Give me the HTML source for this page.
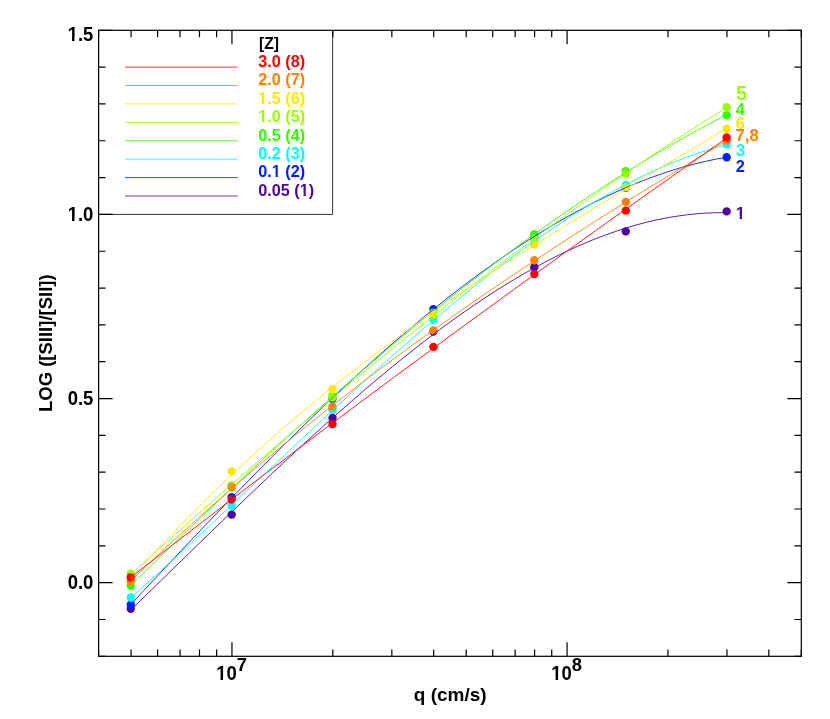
<!DOCTYPE html><html><head><meta charset="utf-8"><title>LOG ([SIII]/[SII]) vs q</title><style>html,body{margin:0;padding:0;background:#fff}svg{display:block;will-change:transform}text{font-family:"Liberation Sans",sans-serif;font-weight:bold;font-kerning:none;white-space:pre}</style></head><body>
<svg width="830" height="719" viewBox="0 0 830 719">
<rect width="830" height="719" fill="#fff"/>
<g fill="#5000a0">
<circle cx="130.78" cy="608.70" r="4.2"/>
<circle cx="231.65" cy="514.60" r="4.2"/>
<circle cx="332.53" cy="418.00" r="4.2"/>
<circle cx="433.41" cy="331.60" r="4.2"/>
<circle cx="534.29" cy="267.20" r="4.2"/>
<circle cx="625.78" cy="231.40" r="4.2"/>
<circle cx="726.66" cy="211.40" r="4.2"/>
</g>
<g fill="#0020ff">
<circle cx="130.78" cy="604.80" r="4.2"/>
<circle cx="231.65" cy="497.10" r="4.2"/>
<circle cx="332.53" cy="398.70" r="4.2"/>
<circle cx="433.41" cy="309.10" r="4.2"/>
<circle cx="534.29" cy="236.10" r="4.2"/>
<circle cx="625.78" cy="187.80" r="4.2"/>
<circle cx="726.66" cy="157.20" r="4.2"/>
</g>
<g fill="#00ffff">
<circle cx="130.78" cy="597.50" r="4.2"/>
<circle cx="231.65" cy="505.80" r="4.2"/>
<circle cx="332.53" cy="409.90" r="4.2"/>
<circle cx="433.41" cy="319.90" r="4.2"/>
<circle cx="534.29" cy="241.10" r="4.2"/>
<circle cx="625.78" cy="184.95" r="4.2"/>
<circle cx="726.66" cy="144.40" r="4.2"/>
</g>
<g fill="#33ff00">
<circle cx="130.78" cy="585.90" r="4.2"/>
<circle cx="231.65" cy="487.50" r="4.2"/>
<circle cx="332.53" cy="396.30" r="4.2"/>
<circle cx="433.41" cy="312.60" r="4.2"/>
<circle cx="534.29" cy="234.30" r="4.2"/>
<circle cx="625.78" cy="171.10" r="4.2"/>
<circle cx="726.66" cy="115.30" r="4.2"/>
</g>
<g fill="#99ff00">
<circle cx="130.78" cy="573.80" r="4.2"/>
<circle cx="231.65" cy="485.40" r="4.2"/>
<circle cx="332.53" cy="397.60" r="4.2"/>
<circle cx="433.41" cy="315.50" r="4.2"/>
<circle cx="534.29" cy="238.40" r="4.2"/>
<circle cx="625.78" cy="173.70" r="4.2"/>
<circle cx="726.66" cy="107.20" r="4.2"/>
</g>
<g fill="#ffe800">
<circle cx="130.78" cy="579.60" r="4.2"/>
<circle cx="231.65" cy="471.35" r="4.2"/>
<circle cx="332.53" cy="389.20" r="4.2"/>
<circle cx="433.41" cy="313.40" r="4.2"/>
<circle cx="534.29" cy="244.60" r="4.2"/>
<circle cx="625.78" cy="187.30" r="4.2"/>
<circle cx="726.66" cy="128.80" r="4.2"/>
</g>
<g fill="#ff8000">
<circle cx="130.78" cy="581.50" r="4.2"/>
<circle cx="231.65" cy="486.90" r="4.2"/>
<circle cx="332.53" cy="406.80" r="4.2"/>
<circle cx="433.41" cy="330.40" r="4.2"/>
<circle cx="534.29" cy="260.20" r="4.2"/>
<circle cx="625.78" cy="201.90" r="4.2"/>
<circle cx="726.66" cy="140.70" r="4.2"/>
</g>
<g fill="#ff0000">
<circle cx="130.78" cy="577.30" r="4.2"/>
<circle cx="231.65" cy="499.50" r="4.2"/>
<circle cx="332.53" cy="424.10" r="4.2"/>
<circle cx="433.41" cy="346.90" r="4.2"/>
<circle cx="534.29" cy="274.10" r="4.2"/>
<circle cx="625.78" cy="210.60" r="4.2"/>
<circle cx="726.66" cy="137.50" r="4.2"/>
</g>
<path d="M130.8,609.9 L140.9,600.1 L151.0,590.3 L161.1,580.5 L171.2,570.6 L181.3,560.8 L191.4,551.0 L201.5,541.2 L211.6,531.4 L221.7,521.6 L231.8,511.9 L241.9,502.2 L252.0,492.5 L262.1,482.9 L272.2,473.4 L282.3,463.9 L292.4,454.5 L302.5,445.2 L312.6,435.9 L322.7,426.8 L332.8,417.7 L342.9,408.8 L353.0,400.0 L363.1,391.2 L373.2,382.6 L383.3,374.2 L393.4,365.9 L403.5,357.7 L413.6,349.7 L423.7,341.8 L433.8,334.1 L443.9,326.6 L454.0,319.2 L464.1,312.1 L474.2,305.1 L484.3,298.3 L494.4,291.7 L504.5,285.4 L514.6,279.2 L524.7,273.3 L534.8,267.7 L544.9,262.2 L555.0,257.0 L565.1,252.1 L575.2,247.4 L585.3,243.0 L595.4,238.8 L605.5,235.0 L615.6,231.4 L625.7,228.1 L635.8,225.1 L645.9,222.4 L656.0,220.0 L666.1,218.0 L676.2,216.3 L686.3,214.9 L696.4,213.8 L706.5,213.1 L716.6,212.7 L726.7,212.7" fill="none" stroke="#5000a0" stroke-width="0.9"/>
<path d="M130.8,604.6 L140.9,593.7 L151.0,582.9 L161.1,572.1 L171.2,561.3 L181.3,550.6 L191.4,539.9 L201.5,529.3 L211.6,518.7 L221.7,508.2 L231.8,497.7 L241.9,487.3 L252.0,477.0 L262.1,466.8 L272.2,456.6 L282.3,446.5 L292.4,436.6 L302.5,426.7 L312.6,416.9 L322.7,407.2 L332.8,397.7 L342.9,388.2 L353.0,378.9 L363.1,369.7 L373.2,360.6 L383.3,351.6 L393.4,342.8 L403.5,334.1 L413.6,325.6 L423.7,317.2 L433.8,309.0 L443.9,300.9 L454.0,293.0 L464.1,285.2 L474.2,277.7 L484.3,270.3 L494.4,263.1 L504.5,256.0 L514.6,249.2 L524.7,242.5 L534.8,236.1 L544.9,229.8 L555.0,223.8 L565.1,218.0 L575.2,212.4 L585.3,207.0 L595.4,201.8 L605.5,196.9 L615.6,192.2 L625.7,187.7 L635.8,183.5 L645.9,179.5 L656.0,175.8 L666.1,172.3 L676.2,169.1 L686.3,166.2 L696.4,163.5 L706.5,161.1 L716.6,159.0 L726.7,157.2" fill="none" stroke="#0020ff" stroke-width="0.9"/>
<path d="M130.8,597.8 L140.9,588.8 L151.0,579.7 L161.1,570.5 L171.2,561.3 L181.3,552.0 L191.4,542.7 L201.5,533.3 L211.6,523.9 L221.7,514.4 L231.8,504.9 L241.9,495.4 L252.0,485.9 L262.1,476.4 L272.2,466.9 L282.3,457.4 L292.4,447.8 L302.5,438.4 L312.6,428.9 L322.7,419.5 L332.8,410.1 L342.9,400.8 L353.0,391.5 L363.1,382.3 L373.2,373.1 L383.3,364.0 L393.4,355.0 L403.5,346.1 L413.6,337.3 L423.7,328.5 L433.8,319.9 L443.9,311.4 L454.0,303.0 L464.1,294.7 L474.2,286.6 L484.3,278.5 L494.4,270.7 L504.5,263.0 L514.6,255.4 L524.7,248.0 L534.8,240.8 L544.9,233.8 L555.0,226.9 L565.1,220.2 L575.2,213.7 L585.3,207.5 L595.4,201.4 L605.5,195.6 L615.6,189.9 L625.7,184.5 L635.8,179.4 L645.9,174.5 L656.0,169.8 L666.1,165.4 L676.2,161.2 L686.3,157.3 L696.4,153.7 L706.5,150.4 L716.6,147.4 L726.7,144.6" fill="none" stroke="#00ffff" stroke-width="0.9"/>
<path d="M130.8,585.5 L140.9,575.6 L151.0,565.7 L161.1,555.9 L171.2,546.1 L181.3,536.3 L191.4,526.6 L201.5,517.0 L211.6,507.4 L221.7,497.8 L231.8,488.3 L241.9,478.9 L252.0,469.5 L262.1,460.1 L272.2,450.8 L282.3,441.6 L292.4,432.4 L302.5,423.3 L312.6,414.2 L322.7,405.3 L332.8,396.3 L342.9,387.5 L353.0,378.7 L363.1,370.0 L373.2,361.3 L383.3,352.7 L393.4,344.2 L403.5,335.8 L413.6,327.5 L423.7,319.2 L433.8,311.0 L443.9,302.9 L454.0,294.9 L464.1,286.9 L474.2,279.1 L484.3,271.3 L494.4,263.6 L504.5,256.0 L514.6,248.5 L524.7,241.1 L534.8,233.8 L544.9,226.6 L555.0,219.5 L565.1,212.4 L575.2,205.5 L585.3,198.7 L595.4,192.0 L605.5,185.4 L615.6,178.9 L625.7,172.5 L635.8,166.2 L645.9,160.0 L656.0,153.9 L666.1,148.0 L676.2,142.2 L686.3,136.4 L696.4,130.8 L706.5,125.4 L716.6,120.0 L726.7,114.8" fill="none" stroke="#33ff00" stroke-width="0.9"/>
<path d="M130.8,574.1 L140.9,565.0 L151.0,556.0 L161.1,546.9 L171.2,537.9 L181.3,528.9 L191.4,519.9 L201.5,511.0 L211.6,502.1 L221.7,493.2 L231.8,484.4 L241.9,475.6 L252.0,466.8 L262.1,458.1 L272.2,449.4 L282.3,440.7 L292.4,432.1 L302.5,423.5 L312.6,414.9 L322.7,406.4 L332.8,397.9 L342.9,389.5 L353.0,381.1 L363.1,372.7 L373.2,364.4 L383.3,356.2 L393.4,347.9 L403.5,339.8 L413.6,331.6 L423.7,323.6 L433.8,315.5 L443.9,307.6 L454.0,299.6 L464.1,291.7 L474.2,283.9 L484.3,276.1 L494.4,268.4 L504.5,260.7 L514.6,253.1 L524.7,245.6 L534.8,238.1 L544.9,230.6 L555.0,223.2 L565.1,215.9 L575.2,208.7 L585.3,201.4 L595.4,194.3 L605.5,187.2 L615.6,180.2 L625.7,173.3 L635.8,166.4 L645.9,159.5 L656.0,152.8 L666.1,146.1 L676.2,139.5 L686.3,132.9 L696.4,126.4 L706.5,120.0 L716.6,113.7 L726.7,107.4" fill="none" stroke="#99ff00" stroke-width="0.9"/>
<path d="M130.8,578.3 L140.9,567.2 L151.0,556.2 L161.1,545.3 L171.2,534.7 L181.3,524.3 L191.4,514.0 L201.5,503.9 L211.6,494.0 L221.7,484.3 L231.8,474.7 L241.9,465.3 L252.0,456.0 L262.1,446.9 L272.2,437.9 L282.3,429.1 L292.4,420.4 L302.5,411.9 L312.6,403.5 L322.7,395.2 L332.8,387.0 L342.9,379.0 L353.0,371.1 L363.1,363.3 L373.2,355.6 L383.3,348.0 L393.4,340.6 L403.5,333.2 L413.6,325.9 L423.7,318.8 L433.8,311.7 L443.9,304.7 L454.0,297.7 L464.1,290.9 L474.2,284.1 L484.3,277.4 L494.4,270.8 L504.5,264.2 L514.6,257.7 L524.7,251.2 L534.8,244.8 L544.9,238.5 L555.0,232.2 L565.1,225.9 L575.2,219.7 L585.3,213.5 L595.4,207.3 L605.5,201.1 L615.6,195.0 L625.7,188.9 L635.8,182.8 L645.9,176.7 L656.0,170.7 L666.1,164.6 L676.2,158.5 L686.3,152.4 L696.4,146.4 L706.5,140.3 L716.6,134.1 L726.7,128.0" fill="none" stroke="#ffe800" stroke-width="0.9"/>
<path d="M130.8,580.9 L140.9,571.2 L151.0,561.6 L161.1,552.1 L171.2,542.8 L181.3,533.5 L191.4,524.3 L201.5,515.2 L211.6,506.2 L221.7,497.3 L231.8,488.5 L241.9,479.8 L252.0,471.2 L262.1,462.6 L272.2,454.2 L282.3,445.8 L292.4,437.6 L302.5,429.4 L312.6,421.3 L322.7,413.2 L332.8,405.3 L342.9,397.4 L353.0,389.6 L363.1,381.9 L373.2,374.2 L383.3,366.7 L393.4,359.1 L403.5,351.7 L413.6,344.3 L423.7,337.0 L433.8,329.8 L443.9,322.6 L454.0,315.5 L464.1,308.4 L474.2,301.4 L484.3,294.4 L494.4,287.5 L504.5,280.7 L514.6,273.9 L524.7,267.2 L534.8,260.5 L544.9,253.8 L555.0,247.2 L565.1,240.7 L575.2,234.2 L585.3,227.7 L595.4,221.2 L605.5,214.8 L615.6,208.5 L625.7,202.2 L635.8,195.9 L645.9,189.6 L656.0,183.4 L666.1,177.2 L676.2,171.0 L686.3,164.9 L696.4,158.7 L706.5,152.6 L716.6,146.6 L726.7,140.5" fill="none" stroke="#ff8000" stroke-width="0.9"/>
<path d="M130.8,577.5 L140.9,569.6 L151.0,561.7 L161.1,553.9 L171.2,546.0 L181.3,538.2 L191.4,530.4 L201.5,522.6 L211.6,514.8 L221.7,507.1 L231.8,499.3 L241.9,491.6 L252.0,483.9 L262.1,476.2 L272.2,468.6 L282.3,460.9 L292.4,453.3 L302.5,445.6 L312.6,438.0 L322.7,430.4 L332.8,422.9 L342.9,415.3 L353.0,407.8 L363.1,400.2 L373.2,392.7 L383.3,385.2 L393.4,377.7 L403.5,370.2 L413.6,362.8 L423.7,355.3 L433.8,347.9 L443.9,340.5 L454.0,333.1 L464.1,325.7 L474.2,318.3 L484.3,311.0 L494.4,303.6 L504.5,296.3 L514.6,289.0 L524.7,281.7 L534.8,274.4 L544.9,267.1 L555.0,259.8 L565.1,252.5 L575.2,245.3 L585.3,238.1 L595.4,230.8 L605.5,223.6 L615.6,216.4 L625.7,209.2 L635.8,202.1 L645.9,194.9 L656.0,187.8 L666.1,180.6 L676.2,173.5 L686.3,166.4 L696.4,159.3 L706.5,152.2 L716.6,145.1 L726.7,138.0" fill="none" stroke="#ff0000" stroke-width="0.9"/>
<line x1="125" x2="237.7" y1="67.12" y2="67.12" stroke="#ff0000" stroke-width="0.8"/>
<text x="258.30" y="66.92" font-size="16.2" fill="#ff0000">3.0 (8)</text>
<line x1="125" x2="237.7" y1="85.54" y2="85.54" stroke="#ff8000" stroke-width="0.8"/>
<text x="258.30" y="85.34" font-size="16.2" fill="#ff8000">2.0 (7)</text>
<line x1="125" x2="237.7" y1="103.95" y2="103.95" stroke="#ffe800" stroke-width="0.8"/>
<text x="258.30" y="103.75" font-size="16.2" fill="#ffe800">1.5 (6)</text>
<line x1="125" x2="237.7" y1="122.36" y2="122.36" stroke="#99ff00" stroke-width="0.8"/>
<text x="258.30" y="122.16" font-size="16.2" fill="#99ff00">1.0 (5)</text>
<line x1="125" x2="237.7" y1="140.77" y2="140.77" stroke="#33ff00" stroke-width="0.8"/>
<text x="258.30" y="140.57" font-size="16.2" fill="#33ff00">0.5 (4)</text>
<line x1="125" x2="237.7" y1="159.18" y2="159.18" stroke="#00ffff" stroke-width="0.8"/>
<text x="258.30" y="158.98" font-size="16.2" fill="#00ffff">0.2 (3)</text>
<line x1="125" x2="237.7" y1="177.59" y2="177.59" stroke="#0020ff" stroke-width="0.8"/>
<text x="258.30" y="177.39" font-size="16.2" fill="#0020ff">0.1 (2)</text>
<line x1="125" x2="237.7" y1="196.01" y2="196.01" stroke="#5000a0" stroke-width="0.8"/>
<text x="258.30" y="195.81" font-size="16.2" fill="#5000a0">0.05 (1)</text>
<text transform="translate(258.95,49.11) scale(1,1.03)" font-size="15.7" fill="#000">[Z]</text>
<path d="M332.63,30.3 V214.42 H98.6" fill="none" stroke="#000" stroke-width="0.8"/>
<rect x="98.6" y="30.3" width="702.70" height="626.00" fill="none" stroke="#000" stroke-width="1.2"/>
<path d="M98.6,656.30h6.9M801.3,656.30h-6.9M98.6,619.48h6.9M801.3,619.48h-6.9M98.6,582.65h14.0M801.3,582.65h-14.0M98.6,545.83h6.9M801.3,545.83h-6.9M98.6,509.01h6.9M801.3,509.01h-6.9M98.6,472.18h6.9M801.3,472.18h-6.9M98.6,435.36h6.9M801.3,435.36h-6.9M98.6,398.54h14.0M801.3,398.54h-14.0M98.6,361.71h6.9M801.3,361.71h-6.9M98.6,324.89h6.9M801.3,324.89h-6.9M98.6,288.06h6.9M801.3,288.06h-6.9M98.6,251.24h6.9M801.3,251.24h-6.9M98.6,214.42h14.0M801.3,214.42h-14.0M98.6,177.59h6.9M801.3,177.59h-6.9M98.6,140.77h6.9M801.3,140.77h-6.9M98.6,103.95h6.9M801.3,103.95h-6.9M98.6,67.12h6.9M801.3,67.12h-6.9M98.6,30.30h14.0M801.3,30.30h-14.0M98.60,656.3v-6.9M98.60,30.3v6.9M131.08,656.3v-6.9M131.08,30.3v6.9M157.61,656.3v-6.9M157.61,30.3v6.9M180.05,656.3v-6.9M180.05,30.3v6.9M199.48,656.3v-6.9M199.48,30.3v6.9M216.62,656.3v-6.9M216.62,30.3v6.9M231.95,656.3v-14.0M231.95,30.3v14.0M332.83,656.3v-6.9M332.83,30.3v6.9M391.84,656.3v-6.9M391.84,30.3v6.9M433.71,656.3v-6.9M433.71,30.3v6.9M466.19,656.3v-6.9M466.19,30.3v6.9M492.72,656.3v-6.9M492.72,30.3v6.9M515.16,656.3v-6.9M515.16,30.3v6.9M534.59,656.3v-6.9M534.59,30.3v6.9M551.73,656.3v-6.9M551.73,30.3v6.9M567.07,656.3v-14.0M567.07,30.3v14.0M667.95,656.3v-6.9M667.95,30.3v6.9M726.96,656.3v-6.9M726.96,30.3v6.9M768.82,656.3v-6.9M768.82,30.3v6.9M801.30,656.3v-6.9M801.30,30.3v6.9" fill="none" stroke="#000" stroke-width="1.2"/>
<text transform="translate(67.68,40.85) scale(1,1.045)" font-size="18.5" fill="#000">1.5</text>
<text transform="translate(67.68,220.77) scale(1,1.045)" font-size="18.5" fill="#000">1.0</text>
<text transform="translate(67.68,404.79) scale(1,1.045)" font-size="18.5" fill="#000">0.5</text>
<text transform="translate(67.68,589.30) scale(1,1.045)" font-size="18.5" fill="#000">0.0</text>
<text transform="translate(216.15,680.20) scale(1,1.045)" font-size="18.5" fill="#000">10</text>
<text transform="translate(236.65,671.00) scale(1,1.045)" font-size="18.4" fill="#000">7</text>
<text transform="translate(551.27,680.20) scale(1,1.045)" font-size="18.5" fill="#000">10</text>
<text transform="translate(571.77,671.00) scale(1,1.045)" font-size="18.4" fill="#000">8</text>
<text x="413.78" y="700.80" font-size="19.0" fill="#000">q (cm/s)</text>
<text transform="translate(51.7,343.2) rotate(-90)" font-size="18.5" text-anchor="middle">LOG ([SIII]/[SII])</text>
<text x="735.90" y="100.30" font-size="20" fill="#99ff00">5</text>
<text x="735.80" y="114.90" font-size="16.4" fill="#33ff00">4</text>
<text x="735.80" y="128.60" font-size="16.4" fill="#ffe800">6</text>
<text x="735.60" y="140.70" font-size="16.6" fill="#ff8000">7,8</text>
<text x="735.90" y="155.80" font-size="16.4" fill="#00ffff">3</text>
<text x="735.70" y="171.80" font-size="16.4" fill="#0020ff">2</text>
<text x="735.70" y="218.80" font-size="16.8" fill="#5000a0">1</text>
<path d="M258.62,101.14h3.45v2.93h-3.45z M264.31,101.14h3.48v2.93h-3.48z M258.62,119.55h3.45v2.93h-3.45z M264.31,119.55h3.48v2.93h-3.48z M272.13,174.78h3.45v2.93h-3.45z M277.82,174.78h3.48v2.93h-3.48z M300.04,193.20h3.45v2.93h-3.45z M305.74,193.20h3.48v2.93h-3.48z M68.04,37.73h3.94v3.49h-3.94z M74.55,37.73h3.97v3.49h-3.97z M68.04,217.65h3.94v3.49h-3.94z M74.55,217.65h3.97v3.49h-3.97z M216.52,677.08h3.94v3.49h-3.94z M223.02,677.08h3.97v3.49h-3.97z M551.63,677.08h3.94v3.49h-3.94z M558.13,677.08h3.97v3.49h-3.97z M736.03,216.09h3.58v3.04h-3.58z M741.93,216.09h3.61v3.04h-3.61z" fill="#fff"/>
</svg></body></html>
